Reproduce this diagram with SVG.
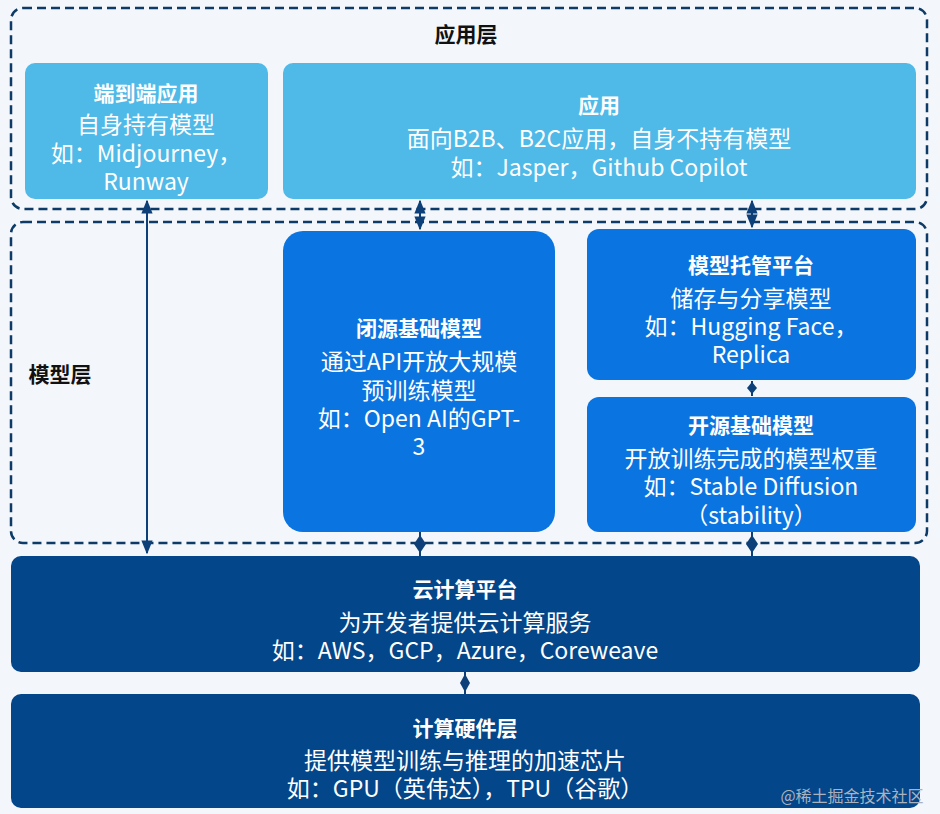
<svg xmlns="http://www.w3.org/2000/svg" width="940" height="814" viewBox="0 0 940 814">
<style>
text{font-family:"Noto Sans CJK SC","Noto Sans",sans-serif;fill:#fff;text-anchor:middle;font-size:23px}
.b{font-weight:bold;font-size:21px}
.layer{fill:none;stroke:#0d3a66;stroke-width:2.5;stroke-dasharray:9 5}
.lt{fill:#111;font-weight:bold;font-size:21px}
.c{stroke:#0d3f78;stroke-width:2;fill:none}
</style>
<defs>
<marker id="ar" viewBox="0 0 10 10" refX="9" refY="5" markerWidth="7" markerHeight="7" orient="auto-start-reverse"><path d="M0,1 L10,5 L0,9 z" fill="#0d3f78"/></marker>
</defs>
<rect width="940" height="814" fill="#f3f6fa"/>
<g id="app-layer"><rect class="layer" x="11" y="8" width="916" height="201" rx="12"/><text class="lt" x="466" y="42">应用层</text></g>
<g id="model-layer"><rect class="layer" x="11" y="222" width="916" height="321" rx="12"/><text class="lt" x="60" y="382" style="text-anchor:middle">模型层</text></g>
<g id="e2e"><rect x="25" y="63" width="243" height="136" rx="10" fill="#4fb9e8"/>
<text class="b" x="146" y="101">端到端应用</text><text x="146" y="133">自身持有模型</text><text x="146" y="162">如：Midjourney，</text><text x="146" y="190">Runway</text></g>
<g id="app"><rect x="283" y="63" width="633" height="136" rx="10" fill="#4fb9e8"/>
<text class="b" x="599" y="113">应用</text><text x="599" y="147">面向B2B、B2C应用，自身不持有模型</text><text x="599" y="176">如：Jasper，Github Copilot</text></g>
<g id="closed"><rect x="283" y="231" width="272" height="301" rx="20" fill="#0a74e0"/>
<text class="b" x="419" y="336">闭源基础模型</text><text x="419" y="370">通过API开放大规模</text><text x="419" y="399">预训练模型</text><text x="419" y="427">如：Open AI的GPT-</text><text x="419" y="455">3</text></g>
<g id="hub"><rect x="587" y="229" width="329" height="151" rx="12" fill="#0a74e0"/>
<text class="b" x="751" y="273">模型托管平台</text><text x="751" y="307">储存与分享模型</text><text x="751" y="335">如：Hugging Face，</text><text x="751" y="363">Replica</text></g>
<g id="open"><rect x="587" y="397" width="329" height="135" rx="12" fill="#0a74e0"/>
<text class="b" x="751" y="433">开源基础模型</text><text x="751" y="467">开放训练完成的模型权重</text><text x="751" y="495">如：Stable Diffusion</text><text x="751" y="524">（stability）</text></g>
<g id="cloud"><rect x="11" y="556" width="909" height="116" rx="10" fill="#03468a"/>
<text class="b" x="465" y="597">云计算平台</text><text x="465" y="631">为开发者提供云计算服务</text><text x="465" y="659">如：AWS，GCP，Azure，Coreweave</text></g>
<g id="hw"><rect x="11" y="694" width="909" height="114" rx="10" fill="#03468a"/>
<text class="b" x="465" y="736">计算硬件层</text><text x="465" y="769">提供模型训练与推理的加速芯片</text><text x="465" y="797">如：GPU（英伟达），TPU（谷歌）</text></g>
<text x="852" y="802" style="fill:#aab3bd;font-size:16px">@稀土掘金技术社区</text>
<g id="connectors">
<line class="c" x1="147" y1="201" x2="147" y2="553" marker-start="url(#ar)" marker-end="url(#ar)"/>
<line class="c" x1="420" y1="201" x2="420" y2="229" marker-start="url(#ar)" marker-end="url(#ar)"/>
<line class="c" x1="752" y1="201" x2="752" y2="227" marker-start="url(#ar)" marker-end="url(#ar)"/>
<line class="c" x1="752" y1="381" x2="752" y2="396"/><path d="M752,382 l-5,6 l5,6 l5,-6z" fill="#0d3f78"/>
<line class="c" x1="420" y1="532" x2="420" y2="556"/><path d="M420,535 l-6,9 l6,9 l6,-9z" fill="#0d3f78"/>
<line class="c" x1="752" y1="532" x2="752" y2="556"/><path d="M752,535 l-6,9 l6,9 l6,-9z" fill="#0d3f78"/>
<line class="c" x1="465" y1="672" x2="465" y2="694"/><path d="M465,674 l-5,9 l5,9 l5,-9z" fill="#0d3f78"/>
</g>
</svg>
